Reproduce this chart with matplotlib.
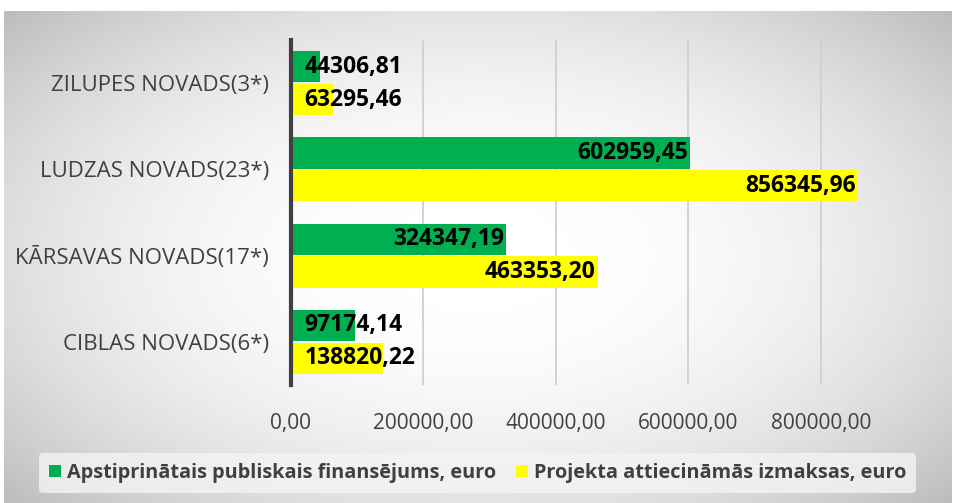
import matplotlib.pyplot as plt
import numpy as np

plt.rcParams['font.family'] = ['Open Sans', 'DejaVu Sans']

categories = ['CIBLAS NOVADS(6*)', 'KĀRSAVAS NOVADS(17*)', 'LUDZAS NOVADS(23*)', 'ZILUPES NOVADS(3*)']
public_funding = [97174.14, 324347.19, 602959.45, 44306.81]
eligible_costs = [138820.22, 463353.20, 856345.96, 63295.46]
series_names = ['Apstiprinātais publiskais finansējums, euro', 'Projekta attiecināmās izmaksas, euro']
xticks = [0, 200000, 400000, 600000, 800000]

fig = plt.figure(figsize=(9.55, 5.03), dpi=100)

# radial grey-white background
bg = fig.add_axes([0.004, 0, 0.992, 0.978], zorder=-10)
yy, xx = np.mgrid[-1:1:300j, -1:1:600j]
r = np.sqrt((xx / 1.2) ** 2 + (yy / 1.3) ** 2)
shade = 1.0 - 0.2 * np.clip(r, 0, 1.2) ** 2.2
bg.imshow(shade, cmap='gray', vmin=0, vmax=1, aspect='auto', extent=[0, 1, 0, 1])
bg.axis('off')

ax = fig.add_axes([0.3047, 0.2346, 0.624, 0.6859])
ax.patch.set_alpha(0)

y = np.arange(len(categories))
h = 0.36
b1 = ax.barh(y + h / 2 + 0.01, public_funding, height=h, color='#00B050', label=series_names[0])
b2 = ax.barh(y - h / 2 - 0.01, eligible_costs, height=h, color='#FFFF00', label=series_names[1])

ax.set_xlim(0, 900000)
ax.set_ylim(-0.5, 3.5)
ax.set_xticks(xticks)
ax.set_xticklabels([f'{v:.2f}'.replace('.', ',') for v in xticks], fontsize=15, color='#404040')
ax.set_yticks(y)
ax.set_yticklabels(categories, fontsize=16, color='#404040')
ax.tick_params(length=0, pad=16)
ax.tick_params(axis='x', pad=20)
ax.xaxis.grid(True, color='#d0d0d0', linewidth=1.3)
ax.set_axisbelow(True)
for s in ['top', 'right', 'bottom']:
    ax.spines[s].set_visible(False)
ax.spines['left'].set_color('#404040')
ax.spines['left'].set_linewidth(3)
ax.spines['left'].set_zorder(5)

fig.canvas.draw()
renderer = fig.canvas.get_renderer()
px_per_unit = ax.bbox.width / 900000
for bars, vals in [(b1, public_funding), (b2, eligible_costs)]:
    for bar, v in zip(bars, vals):
        s = f'{v:.2f}'.replace('.', ',')
        yc = bar.get_y() + bar.get_height() / 2
        t = ax.text(0, yc, s, fontsize=16.5, fontweight='bold', color='black', va='center')
        w = t.get_window_extent(renderer).width / px_per_unit
        if w + 6000 < v:
            t.set_x(v - 3000)
            t.set_ha('right')
        else:
            t.set_x(20000)
            t.set_ha('left')

leg = fig.legend(handles=[b1, b2], loc='lower center', bbox_to_anchor=(0.5, 0.0), ncol=2,
                 frameon=True, fontsize=14.3, handlelength=0.6, handleheight=0.6,
                 handletextpad=0.3, columnspacing=1.0, borderpad=0.5)
leg.get_frame().set_facecolor('#f4f4f4')
leg.get_frame().set_edgecolor('none')
leg.get_frame().set_alpha(0.8)
for t in leg.get_texts():
    t.set_fontweight('bold')
    t.set_color('#404040')

fig.savefig('out.png', dpi=100)
